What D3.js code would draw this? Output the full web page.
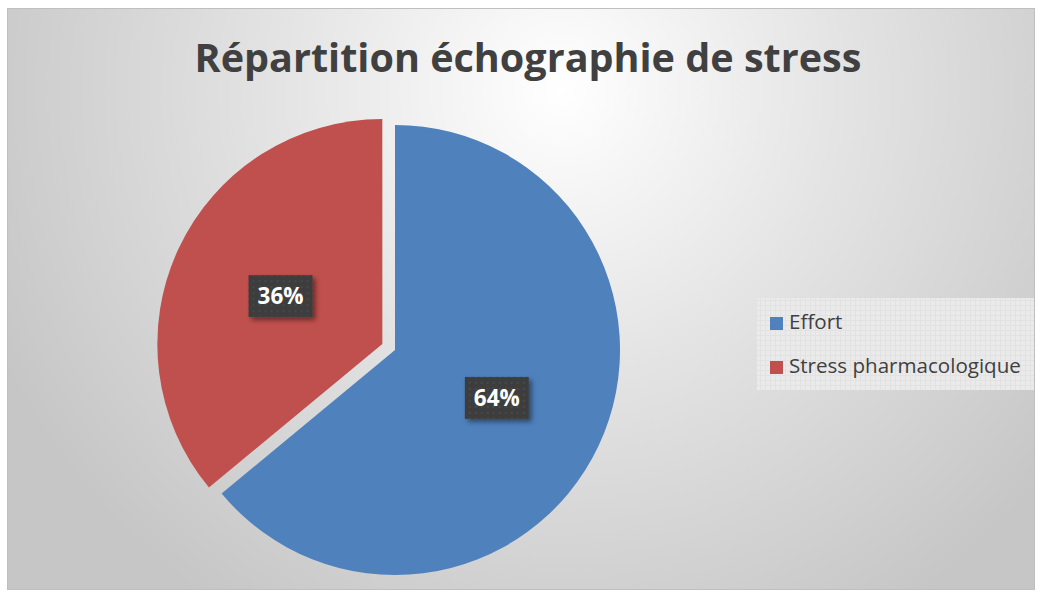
<!DOCTYPE html>
<html><head><meta charset="utf-8">
<script src="https://cdn.jsdelivr.net/npm/d3@7"></script>
<style>html,body{margin:0;padding:0;background:#fff;}svg{display:block;}</style>
</head><body>
<svg id="chart" width="1040" height="595"></svg>
<script>
const title = "Répartition échographie de stress";
const categories = ["Effort", "Stress pharmacologique"];
const values = [64, 36];
const labels = ["64%", "36%"];
const colors = ["#4F81BD", "#C0504D"];
const explode = [0, 14];

const W = 1040, H = 595;
const svg = d3.select("#chart");
const defs = svg.append("defs");
const FONT = "'Open Sans', 'DejaVu Sans', sans-serif";

// background gradient
const rg = defs.append("radialGradient").attr("id", "bg")
  .attr("gradientUnits", "userSpaceOnUse")
  .attr("cx", 560).attr("cy", 90).attr("r", 620);
rg.append("stop").attr("offset", "0%").attr("stop-color", "#ffffff");
rg.append("stop").attr("offset", "45%").attr("stop-color", "#e4e4e4");
rg.append("stop").attr("offset", "100%").attr("stop-color", "#c6c6c6");

// dotted dark pattern for labels
const dp = defs.append("pattern").attr("id", "dots").attr("patternUnits", "userSpaceOnUse")
  .attr("width", 6).attr("height", 6);
dp.append("rect").attr("width", 6).attr("height", 6).attr("fill", "#3d3d3d");
dp.append("circle").attr("cx", 3).attr("cy", 3).attr("r", 1.2).attr("fill", "#474747");

// legend grid pattern
const gp = defs.append("pattern").attr("id", "grid").attr("patternUnits", "userSpaceOnUse")
  .attr("width", 5).attr("height", 5);
gp.append("rect").attr("width", 5).attr("height", 5).attr("fill", "#eaeaea");
gp.append("path").attr("d", "M0 0.5H5M0.5 0V5").attr("stroke", "#e2e2e2").attr("stroke-width", 1);

// shadow filter
const f = defs.append("filter").attr("id", "shadow").attr("x", "-30%").attr("y", "-30%").attr("width", "170%").attr("height", "170%");
f.append("feDropShadow").attr("dx", 3).attr("dy", 3).attr("stdDeviation", 2.5)
  .attr("flood-color", "#000").attr("flood-opacity", 0.45);

// chart area
svg.append("rect").attr("x", 7.5).attr("y", 8.5).attr("width", 1027).attr("height", 581)
  .attr("fill", "url(#bg)").attr("stroke", "#bfbfbf").attr("stroke-width", 1);

function fit(sel, target) {
  const fs = parseFloat(sel.attr("font-size"));
  const w = sel.node().getComputedTextLength();
  sel.attr("font-size", fs * target / w);
}

// title
const t = svg.append("text").attr("x", 528).attr("y", 72).attr("text-anchor", "middle")
  .attr("font-family", FONT).attr("font-weight", 700).attr("font-size", 36)
  .attr("fill", "#404040").text(title);
fit(t, 667);

// pie
const cx = 395, cy = 350, R = 225;
const pie = d3.pie().sort(null).startAngle(0).endAngle(2 * Math.PI);
const arcs = pie(values);
const arc = d3.arc().innerRadius(0).outerRadius(R);
const g = svg.append("g").attr("transform", `translate(${cx},${cy})`);

arcs.forEach((a, i) => {
  const mid = (a.startAngle + a.endAngle) / 2;
  const dx = Math.sin(mid) * explode[i], dy = -Math.cos(mid) * explode[i];
  const sg = g.append("g").attr("transform", `translate(${dx},${dy})`);
  sg.append("path").attr("d", arc(a)).attr("fill", colors[i]);
});

// labels
arcs.forEach((a, i) => {
  const mid = (a.startAngle + a.endAngle) / 2;
  const rr = R * 0.5 + explode[i];
  const lx = Math.sin(mid) * rr, ly = -Math.cos(mid) * rr;
  const lg = g.append("g").attr("transform", `translate(${lx},${ly})`);
  lg.append("rect").attr("x", -32).attr("y", -21).attr("width", 64).attr("height", 42)
    .attr("fill", "url(#dots)").attr("filter", "url(#shadow)");
  const tx = lg.append("text").attr("x", 0).attr("y", 8).attr("text-anchor", "middle")
    .attr("font-family", FONT).attr("font-weight", 700).attr("font-size", 20)
    .attr("fill", "#ffffff").text(labels[i]);
  fit(tx, 46);
});

// legend
const leg = svg.append("g");
leg.append("rect").attr("x", 757).attr("y", 298).attr("width", 277).attr("height", 92)
  .attr("fill", "url(#grid)");
const legY = [329, 373];
categories.forEach((c, i) => {
  leg.append("rect").attr("x", 770).attr("y", legY[i] - 12).attr("width", 13).attr("height", 13)
    .attr("fill", colors[i]);
  const lt = leg.append("text").attr("x", 789).attr("y", legY[i])
    .attr("font-family", FONT).attr("font-size", 19).attr("fill", "#404040").text(c);
  if (i === 1) fit(lt, 232);
});
const fsz = leg.selectAll("text").filter((d, i) => i === 1).attr("font-size");
leg.selectAll("text").attr("font-size", fsz);
</script>
</body></html>
